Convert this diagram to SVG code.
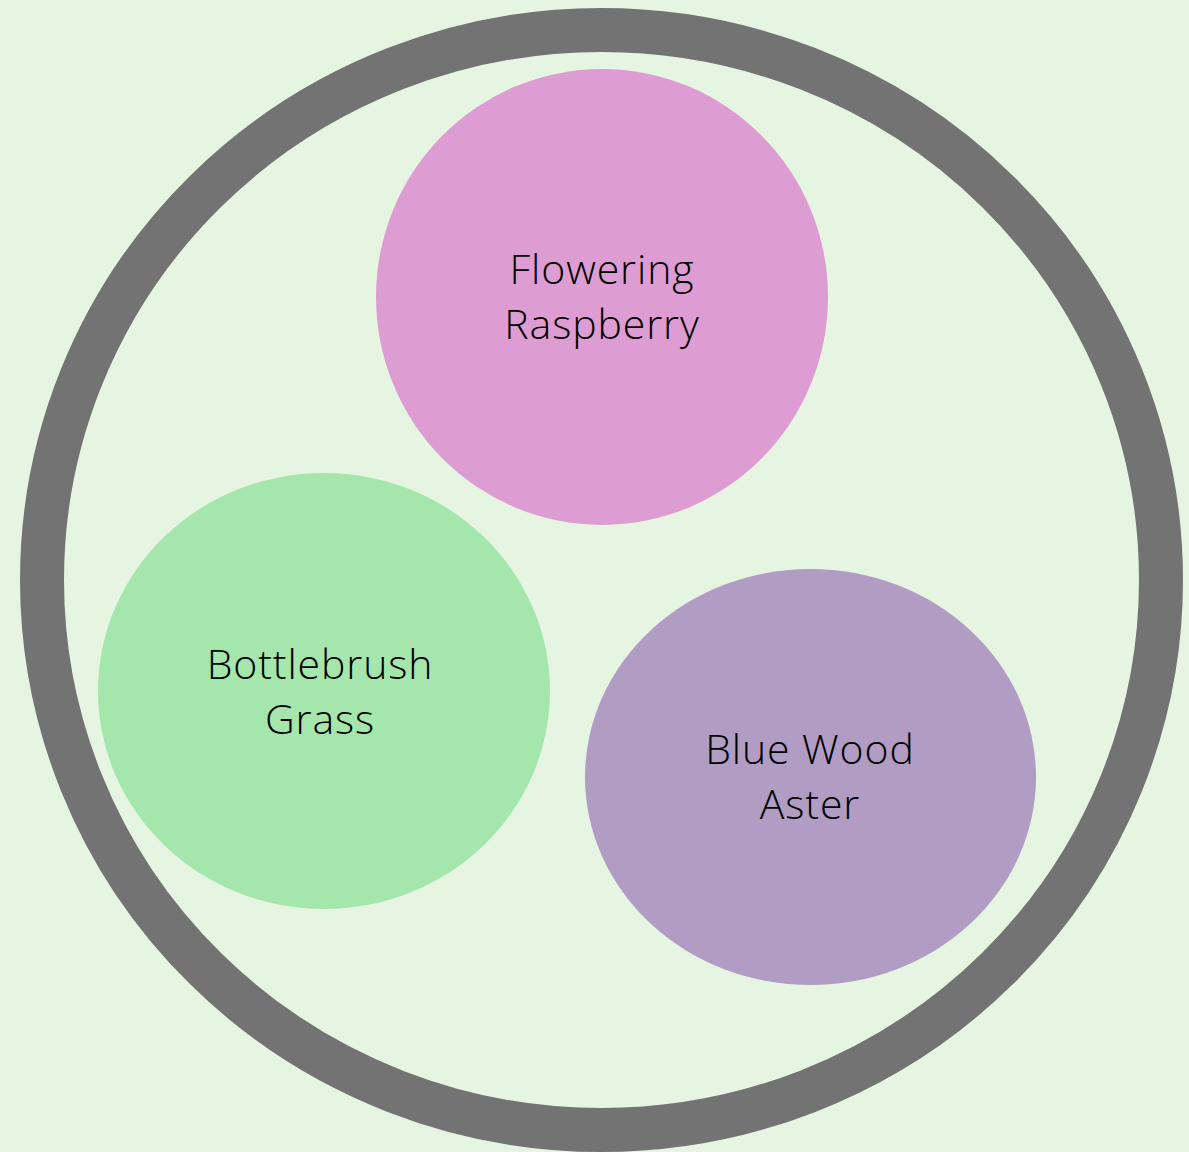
<svg xmlns="http://www.w3.org/2000/svg" width="1189" height="1152" viewBox="0 0 1189 1152">
<style>
.lbl{font-family:"Open Sans","Noto Sans","Liberation Sans",sans-serif;font-weight:300;font-size:41px;letter-spacing:0.9px;fill:#000;text-anchor:middle}
</style>
<rect width="1189" height="1152" fill="#E6F5E1"/>
<g id="outer-ring">
<ellipse cx="601.5" cy="580" rx="559.5" ry="550" fill="none" stroke="#737373" stroke-width="44"/>
</g>
<g id="flowering-raspberry">
<ellipse cx="602" cy="297" rx="226" ry="228" fill="#DD9DD2"/>
<text class="lbl" x="602" y="284">Flowering</text>
<text class="lbl" x="602" y="339">Raspberry</text>
</g>
<g id="bottlebrush-grass">
<ellipse cx="324" cy="691" rx="226" ry="218" fill="#A4E6AB"/>
<text class="lbl" x="320" y="679">Bottlebrush</text>
<text class="lbl" x="320" y="734">Grass</text>
</g>
<g id="blue-wood-aster">
<ellipse cx="810.5" cy="777" rx="225.5" ry="208" fill="#B19CC4"/>
<text class="lbl" x="810" y="764">Blue Wood</text>
<text class="lbl" x="810" y="819">Aster</text>
</g>
<g id="connectors"/>
</svg>
